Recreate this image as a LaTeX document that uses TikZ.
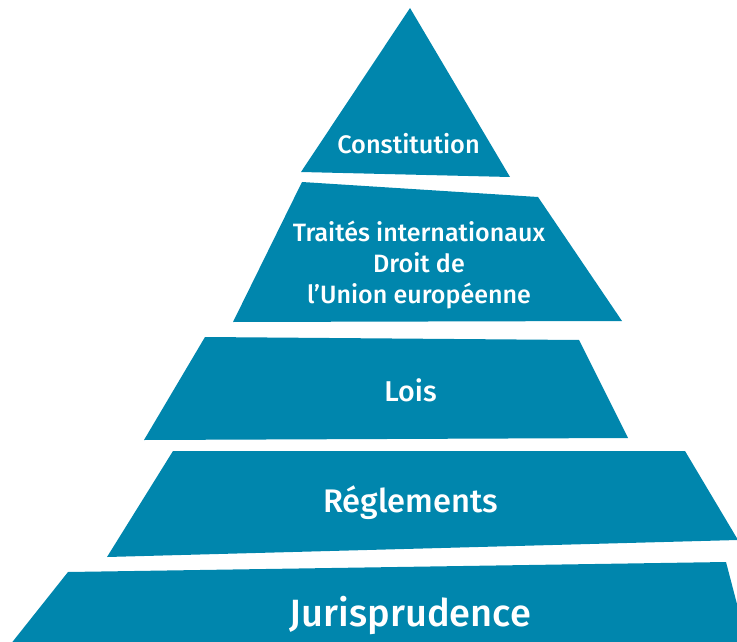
\documentclass[tikz,border=0pt]{standalone}
\usepackage{fontspec}
\setmainfont{Fira Sans}[UprightFont=* Medium]
\definecolor{normeblue}{RGB}{0,134,173}
\tikzset{
    layer/.style={
        fill=normeblue,
        draw=none
    },
    layer text/.style={
        text=white,
        align=center,
        inner sep=0pt
    }
}

\begin{document}
\begin{tikzpicture}[x=0.75pt, y=-0.75pt]
                \useasboundingbox (0, 0) rectangle (737, 641);
                \clip (0, 0) rectangle (737, 641);
                % Constitution
                \coordinate (C1) at (410, 8);
                \coordinate (C2) at (510, 177);
                \coordinate (C3) at (301, 172);
                % Traites
                \coordinate (T1) at (302, 182);
                \coordinate (T2) at (538, 197);
                \coordinate (T3) at (622, 321);
                \coordinate (T4) at (233, 322);
                % Lois
                \coordinate (L1) at (205, 337);
                \coordinate (L2) at (579, 340);
                \coordinate (L3) at (628, 438);
                \coordinate (L4) at (144, 440);
                % Reglements
                \coordinate (R1) at (173, 451);
                \coordinate (R2) at (685, 451);
                \coordinate (R3) at (738, 540);
                \coordinate (R4) at (107, 557);
                % Jurisprudence
                \coordinate (J1) at (68, 572);
                \coordinate (J2) at (726, 562);
                \coordinate (J3) at (749, 650);
                \coordinate (J4) at (6, 650);
                \fill[layer] (C1) -- (C2) -- (C3) -- cycle;
                \fill[layer] (T1) -- (T2) -- (T3) -- (T4) -- cycle;
                \fill[layer] (L1) -- (L2) -- (L3) -- (L4) -- cycle;
                \fill[layer] (R1) -- (R2) -- (R3) -- (R4) -- cycle;
                \fill[layer] (J1) -- (J2) -- (J3) -- (J4) -- cycle;
                \node[layer text, anchor=base, font=\fontsize{19}{22}\selectfont] (constitution) at (408.5, 154) {Constitution};
                \node[layer text, font=\fontsize{18.8}{23.5}\selectfont] (traites) at (419, 265) {Traités internationaux\\Droit de\\l’Union européenne};
                \node[layer text, anchor=base, font=\fontsize{21.5}{26}\selectfont] (lois) at (410.5, 401) {Lois};
                \node[layer text, anchor=base, font=\fontsize{24.5}{28}\selectfont] (reglements) at (410.5, 512) {Réglements};
                \node[layer text, anchor=base, font=\fontsize{28.5}{33}\selectfont] (jurisprudence) at (410.5, 626) {Jurisprudence};
            \end{tikzpicture}
\end{document}
